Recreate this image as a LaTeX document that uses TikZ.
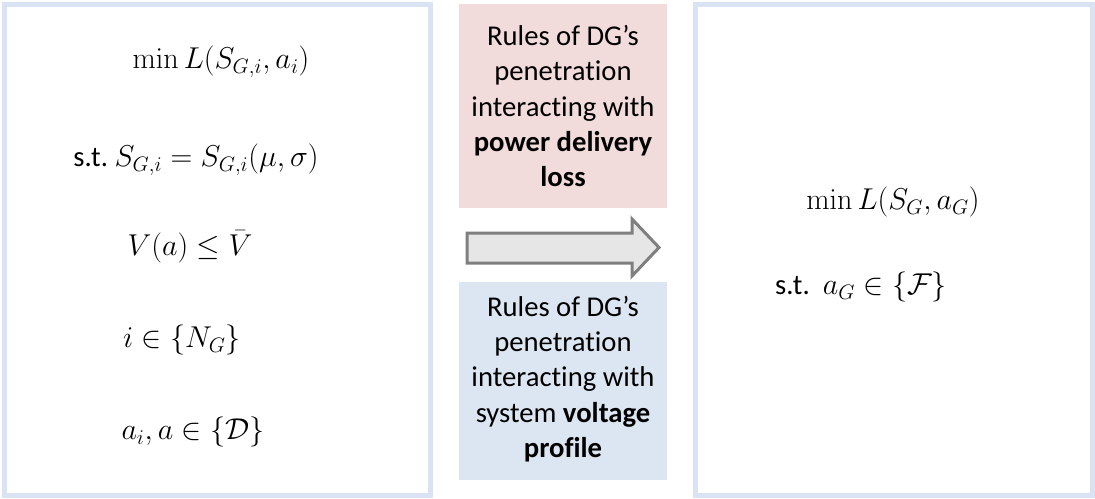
\documentclass[tikz,border=0pt]{standalone}
\usepackage[no-math]{fontspec}
\setmainfont{Carlito}[Ligatures=NoCommon]
\definecolor{frameblue}{HTML}{DAE3F3}
\definecolor{rulepink}{HTML}{F2DCDB}
\definecolor{ruleblue}{HTML}{DCE6F2}
\definecolor{arrowfill}{HTML}{E7E6E6}
\definecolor{arrowedge}{HTML}{7F7F7F}
\newcommand{\stlabel}{{\fontsize{19.7}{24}\selectfont s.t.}}
\tikzset{
  modelbox/.style={draw=frameblue, line width=3.75pt, fill=white, inner sep=0pt},
  rulebox/.style={inner sep=0pt, align=center,
    font=\fontsize{21.5}{26.5}\selectfont},
  eq/.style={inner sep=0pt, scale=1.09, font=\fontsize{20}{24}\selectfont},
}
\begin{document}
\begin{tikzpicture}[x=0.75pt, y=-0.75pt]
  \useasboundingbox (0,0) rectangle (1095,499);

  % two model frames
  \node[modelbox, minimum width=319.5pt, minimum height=368.25pt] (left) at (217,250) {};
  \node[modelbox, minimum width=297.75pt, minimum height=368.25pt] (right) at (893.5,250) {};

  % rule boxes
  \node[fill=rulepink, minimum width=156pt, minimum height=153pt, inner sep=0pt] (pink) at (563,106) {};
  \node[fill=ruleblue, minimum width=156pt, minimum height=148.5pt, inner sep=0pt] (blue) at (563,381) {};
  \node[rulebox] (pinktext) at (563,106) {Rules of DG’s\\penetration\\interacting with\\\textbf{power delivery}\\\textbf{loss}};
  \node[rulebox] (bluetext) at (563,379) {Rules of DG’s\\penetration\\interacting with\\system \textbf{voltage}\\\textbf{profile}};

  % block arrow
  \draw[draw=arrowedge, fill=arrowfill, line width=2.25pt, line join=miter]
    (467,233) -- (632,233) -- (632,219) -- (659,247.5) -- (632,276) -- (632,263) -- (467,263) -- cycle;

  % original problem
  \node[eq] (obj) at (221,62) {$\min L(S_{G,i},a_i)$};
  \node[eq] (c1) at (196,160) {\stlabel\ $S_{G,i}=S_{G,i}(\mu,\sigma)$};
  \node[eq] (c2) at (190,247) {$V(a)\le\bar{V}$};
  \node[eq] (c3) at (182,340) {$i\in\{N_G\}$};
  \node[eq] (c4) at (193,432) {$a_i,a\in\{\mathcal{D}\}$};

  % reduced problem
  \node[eq] (robj) at (893,202) {$\min L(S_G,a_G)$};
  \node[eq] (rc1) at (861,287) {\stlabel\ \ $a_G\in\{\mathcal{F}\}$};
\end{tikzpicture}
\end{document}
